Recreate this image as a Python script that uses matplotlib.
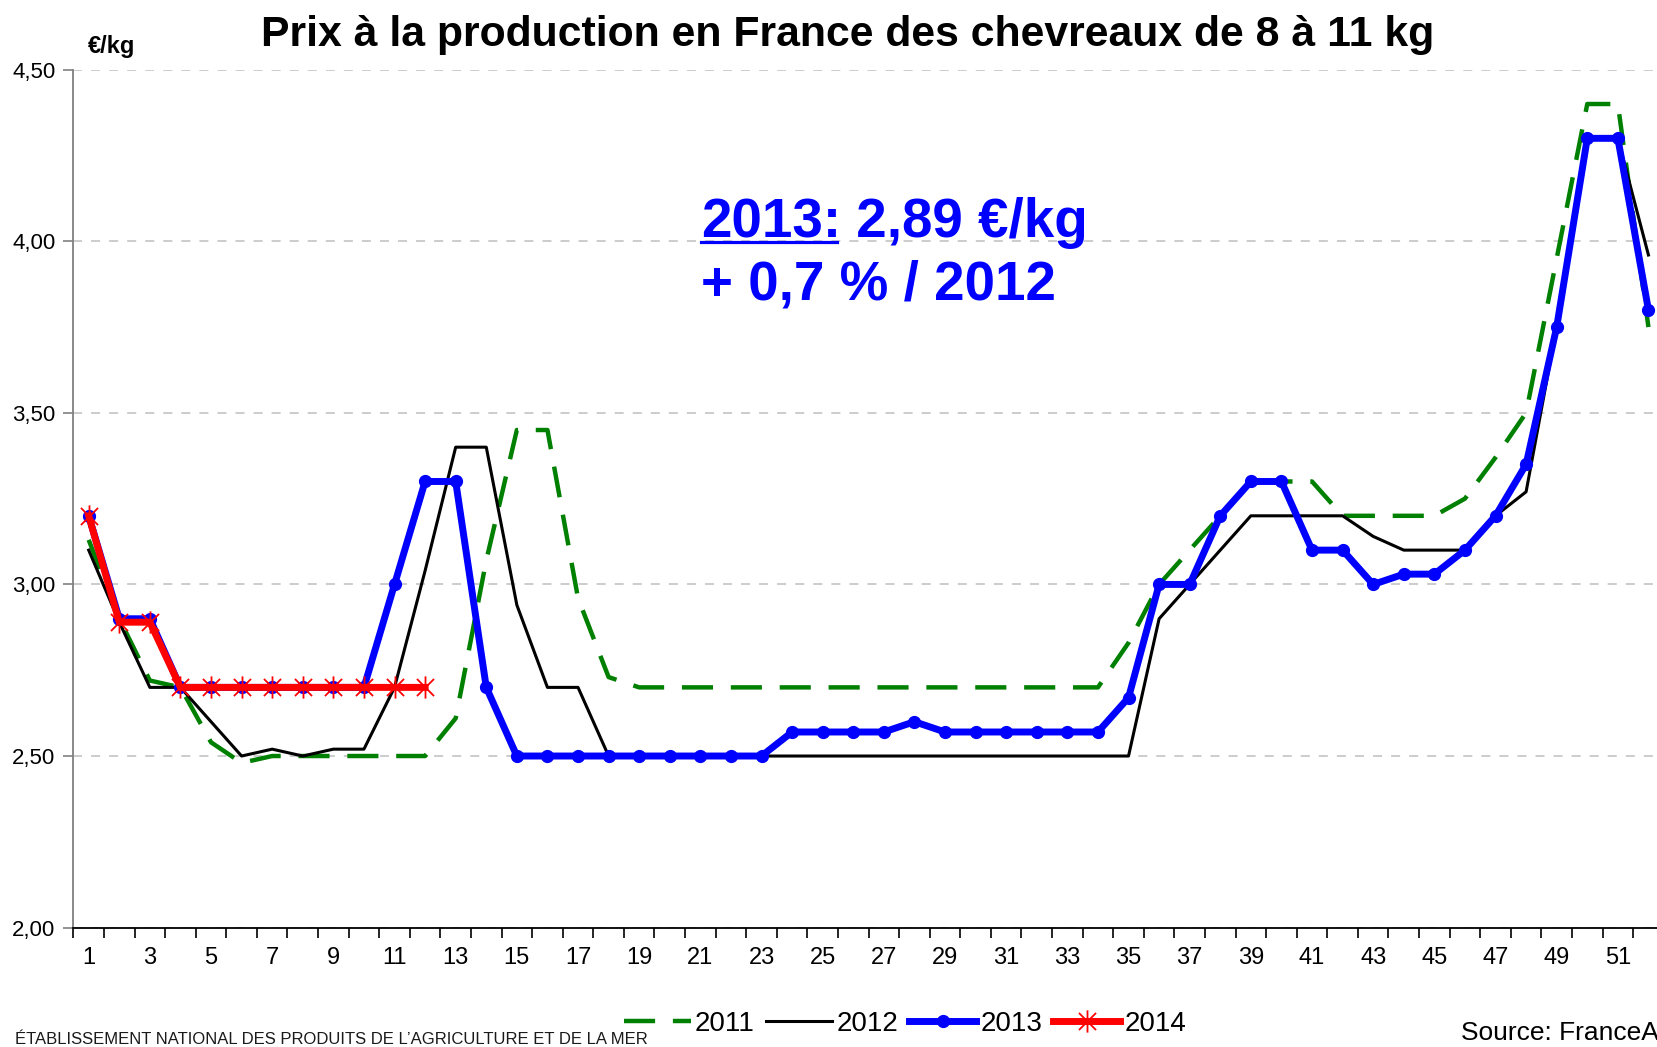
import matplotlib
matplotlib.use('Agg')
import matplotlib.pyplot as plt
from matplotlib.path import Path
from matplotlib.lines import Line2D
from matplotlib.ticker import FixedLocator, FuncFormatter

weeks = list(range(1, 53))
y2011 = [3.13, 2.90, 2.72, 2.70, 2.54, 2.48, 2.50, 2.50, 2.50, 2.50, 2.50, 2.50,
         2.61, 3.07, 3.45, 3.45, 2.96, 2.73,
         2.70, 2.70, 2.70, 2.70, 2.70, 2.70, 2.70, 2.70, 2.70, 2.70, 2.70, 2.70,
         2.70, 2.70, 2.70, 2.70,
         2.83, 3.00, 3.10, 3.20, 3.30, 3.30, 3.30, 3.20, 3.20, 3.20, 3.20, 3.25,
         3.37, 3.50, 3.95, 4.40, 4.40, 3.75]
y2012 = [3.10, 2.89, 2.70, 2.70, 2.60, 2.50, 2.52, 2.50, 2.52, 2.52, 2.70, 3.04,
         3.40, 3.40, 2.94, 2.70, 2.70, 2.50,
         2.50, 2.50, 2.50, 2.50, 2.50, 2.50, 2.50, 2.50, 2.50, 2.50, 2.50, 2.50,
         2.50, 2.50, 2.50, 2.50, 2.50,
         2.90, 3.00, 3.10, 3.20, 3.20, 3.20, 3.20, 3.14, 3.10, 3.10, 3.10, 3.20,
         3.27, 3.75, 4.30, 4.30, 3.96]
y2013 = [3.20, 2.90, 2.90, 2.70, 2.70, 2.70, 2.70, 2.70, 2.70, 2.70, 3.00, 3.30,
         3.30, 2.70, 2.50, 2.50, 2.50, 2.50, 2.50, 2.50, 2.50, 2.50, 2.50,
         2.57, 2.57, 2.57, 2.57, 2.60, 2.57, 2.57, 2.57, 2.57, 2.57, 2.57,
         2.67, 3.00, 3.00, 3.20, 3.30, 3.30, 3.10, 3.10, 3.00, 3.03, 3.03, 3.10,
         3.20, 3.35, 3.75, 4.30, 4.30, 3.80]
y2014 = [3.20, 2.89, 2.89, 2.70, 2.70, 2.70, 2.70, 2.70, 2.70, 2.70, 2.70, 2.70]
series_labels = ['2011', '2012', '2013', '2014']
yticks = [2.00, 2.50, 3.00, 3.50, 4.00, 4.50]
xtick_labels = [str(w) for w in range(1, 52, 2)]

title = "Prix à la production en France des chevreaux de 8 à 11 kg"
note1a = "2013:"
note1b = " 2,89 €/kg"
note2 = "+ 0,7 % / 2012"
footer = "ÉTABLISSEMENT NATIONAL DES PRODUITS DE L\u2019AGRICULTURE ET DE LA MER"
source = "Source: FranceAgriMer"

NARROW = ['Liberation Sans', 'DejaVu Sans']
BOLD = ['Liberation Sans', 'DejaVu Sans']

W, H = 1657, 1047
fig = plt.figure(figsize=(W / 100, H / 100), dpi=100)
left_px, top_px, bot_px = 73.4, 69.7, 927.6
ax = fig.add_axes([left_px / W, 1 - bot_px / H, 1 - left_px / W, (bot_px - top_px) / H])
ax.set_xlim(0.5, 52.28)
ax.set_ylim(2.0, 4.5)

star = Path([(-1, -1), (1, 1), (-1, 1), (1, -1), (0, -1.3), (0, 1.3)],
            [Path.MOVETO, Path.LINETO, Path.MOVETO, Path.LINETO, Path.MOVETO, Path.LINETO])

ax.plot(weeks, y2011, color='#008000', lw=3.2, dashes=(7, 4), label=series_labels[0], zorder=3,
        solid_capstyle='butt', dash_capstyle='butt')
ax.plot(weeks, y2012, color='black', lw=2.2, label=series_labels[1], zorder=4)
ax.plot(weeks, y2013, color='#0000FF', lw=5, marker='o', ms=8.5, label=series_labels[2], zorder=5)
ax.plot(weeks[:len(y2014)], y2014, color='#FF0000', lw=5, marker=star, ms=16, mew=1.3,
        mec='#FF0000', label=series_labels[3], zorder=6)

# axes styling
for s in ['top', 'right']:
    ax.spines[s].set_visible(False)
ax.spines['left'].set_color('#808080')
ax.spines['left'].set_linewidth(1.3)
ax.spines['bottom'].set_color('black')
ax.spines['bottom'].set_linewidth(1.3)

ax.yaxis.set_major_locator(FixedLocator(yticks))
ax.yaxis.set_major_formatter(FuncFormatter(lambda v, p: f"{v:.2f}".replace('.', ',')))
ax.tick_params(axis='y', direction='out', length=7, width=1.2, color='#808080', pad=6,
               labelsize=16)
for lbl in ax.get_yticklabels():
    lbl.set_family(NARROW)

ax.xaxis.set_major_locator(FixedLocator(list(range(1, 52, 2))))
ax.xaxis.set_major_formatter(FuncFormatter(lambda v, p: str(int(round(v)))))
ax.xaxis.set_minor_locator(FixedLocator([k + 0.5 for k in range(0, 53)]))
ax.tick_params(axis='x', which='major', length=0, pad=14, labelsize=17)
ax.tick_params(axis='x', which='minor', direction='out', length=7, width=1.2, color='black')
for lbl in ax.get_xticklabels():
    lbl.set_family(NARROW)

ax.yaxis.grid(True, color='#c8c8c8', lw=1.3, dashes=(5, 5))
ax.set_axisbelow(True)

fig.text(848 / W, 1 - 46 / H, title, ha='center', va='baseline', fontsize=30.8,
         fontweight='bold', family=BOLD)
fig.text(88 / W, 1 - 47 / H, "€/kg", ha='left', va='center', fontsize=17,
         fontweight='bold', family=BOLD)

# annotation
ann_fs = 39.4
t1 = fig.text(701 / W, 1 - 237 / H, note1a, ha='left', va='baseline', fontsize=ann_fs,
              fontweight='bold', color='#0000FF', family=BOLD)
fig.canvas.draw()
r = fig.canvas.get_renderer()
bb = t1.get_window_extent(r)
fig.text(bb.x1 / W, 1 - 237 / H, note1b, ha='left', va='baseline', fontsize=ann_fs,
         fontweight='bold', color='#0000FF', family=BOLD)
uy = 1 - 242 / H
fig.add_artist(Line2D([bb.x0 / W, (bb.x1 - 4) / W], [uy, uy], color='#0000FF', lw=2.3))
fig.text(701 / W, 1 - 300 / H, note2, ha='left', va='baseline', fontsize=ann_fs,
         fontweight='bold', color='#0000FF', family=BOLD)

leg = ax.legend(loc='center', bbox_to_anchor=(905 / W, 1 - 1024 / H),
                bbox_transform=fig.transFigure, ncol=4, frameon=False,
                handlelength=2.4, handletextpad=0.15, columnspacing=0.4,
                numpoints=1, prop={'family': NARROW, 'size': 20})

fig.text(15 / W, 1 - 1039 / H, footer, ha='left', va='center', fontsize=12,
         family=NARROW, color='#1a1a1a')
fig.text(1461 / W, 1 - 1033 / H, source, ha='left', va='center', fontsize=19,
         family=NARROW, color='black')

fig.savefig('out.png', dpi=100)
